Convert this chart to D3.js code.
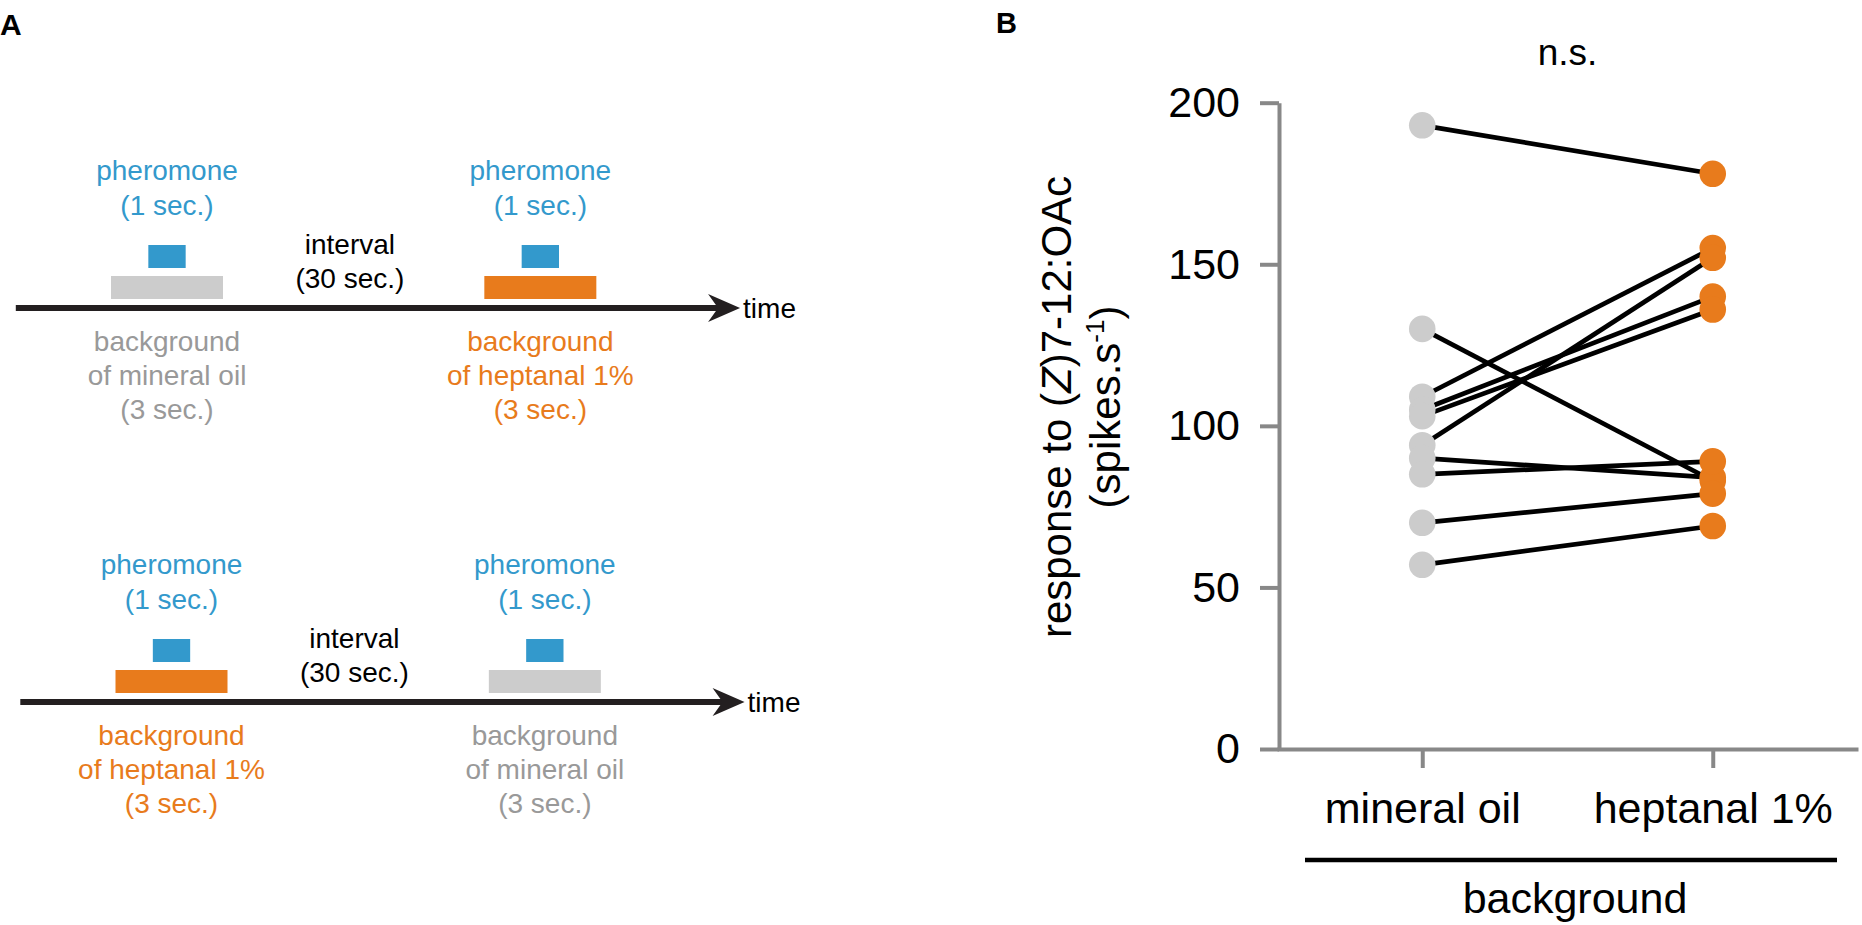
<!DOCTYPE html>
<html>
<head>
<meta charset="utf-8">
<script src="https://cdn.jsdelivr.net/npm/d3@7"></script>
<style>
	body { margin: 0; background: #fff; }
	svg { display: block; font-family: "Liberation Sans", Arial, Helvetica, sans-serif; }
</style>
</head>
<body>
<script>
// panel B: paired responses, one entry per sensillum (same index = same recording)
const groups = ["mineral oil", "heptanal 1%"];
const mineralOil = [193, 130, 109, 105, 103, 94, 90, 85, 70, 57];
const heptanal = [178, 83, 155, 140, 136, 152, 84, 89, 79, 69];
const yTicks = [0, 50, 100, 150, 200];

// panel A: stimulation protocol, times in schematic seconds
const rowBackgrounds = [
	["mineral oil", "heptanal 1%"],
	["heptanal 1%", "mineral oil"],
];
const trialOnsets = [0, 10];
const backgroundDuration = 3;
const pheromoneOnset = 1;
const pheromoneDuration = 1;
const pheromoneLabel = ["pheromone", "(1 sec.)"];
const intervalLabel = ["interval", "(30 sec.)"];
const backgroundLabels = {
	"mineral oil": ["background", "of mineral oil", "(3 sec.)"],
	"heptanal 1%": ["background", "of heptanal 1%", "(3 sec.)"],
};

const width = 1862;
const height = 925;

const blue = "#3399cc";
const orange = "#e87b1c";
const lightGrey = "#cccccc";
const textGrey = "#999999";
const axisGrey = "#888888";
const ink = "#231f20";

const fillFor = { "mineral oil": lightGrey, "heptanal 1%": orange };
const textFor = { "mineral oil": textGrey, "heptanal 1%": orange };

const svg = d3
	.select("body")
	.append("svg")
	.attr("width", width)
	.attr("height", height);

// ---------- panel A ----------
svg
	.append("text")
	.attr("x", 0)
	.attr("y", 35)
	.attr("font-size", 30)
	.attr("font-weight", "bold")
	.text("A");

const t = d3.scaleLinear().domain([0, backgroundDuration]).range([111, 223]);
const lineY = 308;
const rowOffsets = [
	[0, 0],
	[4.5, 394],
];

const multiline = (g, lines, x, y0, step, color) => {
	g.append("text")
		.attr("text-anchor", "middle")
		.attr("font-size", 28)
		.attr("fill", color)
		.selectAll("tspan")
		.data(lines)
		.enter()
		.append("tspan")
		.attr("x", x)
		.attr("y", (d, i) => y0 + i * step)
		.text((d) => d);
};

rowBackgrounds.forEach((row, r) => {
	const g = svg
		.append("g")
		.attr("transform", `translate(${rowOffsets[r][0]},${rowOffsets[r][1]})`);

	const tipX = t(16.85);
	g.append("line")
		.attr("x1", t(-2.55))
		.attr("x2", tipX - 20)
		.attr("y1", lineY)
		.attr("y2", lineY)
		.attr("stroke", ink)
		.attr("stroke-width", 6);
	g.append("path")
		.attr(
			"d",
			`M${tipX},${lineY}L${tipX - 32},${lineY - 14}L${tipX - 22},${lineY}L${tipX - 32},${lineY + 14}Z`
		)
		.attr("fill", ink);
	g.append("text")
		.attr("x", tipX + 3)
		.attr("y", lineY + 10)
		.attr("font-size", 28)
		.attr("fill", "#000")
		.text("time");

	const trials = row.map((bg, i) => ({ bg, onset: trialOnsets[i] }));

	g.selectAll("rect.bg")
		.data(trials)
		.enter()
		.append("rect")
		.attr("class", "bg")
		.attr("x", (d) => t(d.onset))
		.attr("width", (d) => t(d.onset + backgroundDuration) - t(d.onset))
		.attr("y", 276)
		.attr("height", 23)
		.attr("fill", (d) => fillFor[d.bg]);

	g.selectAll("rect.ph")
		.data(trials)
		.enter()
		.append("rect")
		.attr("class", "ph")
		.attr("x", (d) => t(d.onset + pheromoneOnset))
		.attr(
			"width",
			(d) =>
				t(d.onset + pheromoneOnset + pheromoneDuration) -
				t(d.onset + pheromoneOnset)
		)
		.attr("y", 245)
		.attr("height", 23)
		.attr("fill", blue);

	trials.forEach((d) => {
		const cx = t(d.onset + backgroundDuration / 2);
		multiline(g, pheromoneLabel, cx, 180, 35, blue);
		multiline(g, backgroundLabels[d.bg], cx, 351, 34, textFor[d.bg]);
	});

	multiline(g, intervalLabel, t(6.4), 254, 34, "#000");
});

// ---------- panel B ----------
svg
	.append("text")
	.attr("x", 996)
	.attr("y", 33)
	.attr("font-size", 29)
	.attr("font-weight", "bold")
	.text("B");

const y = d3.scaleLinear().domain([0, 200]).range([749, 102.7]);
const x = d3.scalePoint().domain(groups).range([1277, 1858]).padding(0.5);

const yAxis = d3
	.axisLeft(y)
	.tickValues(yTicks)
	.tickSize(19)
	.tickSizeOuter(0)
	.tickPadding(20);
const xAxis = d3.axisBottom(x).tickSize(19).tickSizeOuter(0).tickPadding(24);

const styleAxis = (g) => {
	g.attr("font-family", null).attr("font-size", 43);
	g.selectAll("path, line").attr("stroke", axisGrey).attr("stroke-width", 4);
	g.selectAll("text").attr("fill", "#000");
};

svg
	.append("g")
	.attr("transform", `translate(${x.range()[0] + 2},0)`)
	.call(yAxis)
	.call(styleAxis);

svg
	.append("g")
	.attr("transform", `translate(0,${y(0)})`)
	.call(xAxis)
	.call(styleAxis);

const pairs = mineralOil.map((v, i) => ({ before: v, after: heptanal[i] }));

svg
	.append("g")
	.selectAll("line")
	.data(pairs)
	.enter()
	.append("line")
	.attr("x1", x(groups[0]))
	.attr("x2", x(groups[1]))
	.attr("y1", (d) => y(d.before))
	.attr("y2", (d) => y(d.after))
	.attr("stroke", "#000")
	.attr("stroke-width", 4.7);

groups.forEach((grp, gi) => {
	svg
		.append("g")
		.selectAll("circle")
		.data(gi === 0 ? mineralOil : heptanal)
		.enter()
		.append("circle")
		.attr("cx", x(grp))
		.attr("cy", (d) => y(d))
		.attr("r", 13.3)
		.attr("fill", fillFor[grp]);
});

svg
	.append("text")
	.attr("x", d3.mean(groups, (d) => x(d)))
	.attr("y", 65)
	.attr("text-anchor", "middle")
	.attr("font-size", 37)
	.text("n.s.");

// y label, two lines
const yLabel1 = svg
	.append("text")
	.attr("transform", "translate(1071,407) rotate(-90)")
	.attr("text-anchor", "middle")
	.attr("font-size", 42);
yLabel1.append("tspan").text("response to (");
yLabel1.append("tspan").attr("font-style", "italic").text("Z");
yLabel1.append("tspan").text(")7-12:OAc");

const yLabel2 = svg
	.append("text")
	.attr("transform", "translate(1120,407) rotate(-90)")
	.attr("text-anchor", "middle")
	.attr("font-size", 42);
yLabel2.append("tspan").text("(spikes.s");
yLabel2.append("tspan").attr("font-size", 26).attr("dy", -16).text("-1");
yLabel2.append("tspan").attr("dy", 16).text(")");

// bracket under the categories
svg
	.append("line")
	.attr("x1", 1305)
	.attr("x2", 1837)
	.attr("y1", 860)
	.attr("y2", 860)
	.attr("stroke", "#000")
	.attr("stroke-width", 4.5);

svg
	.append("text")
	.attr("x", 1575)
	.attr("y", 913)
	.attr("text-anchor", "middle")
	.attr("font-size", 43)
	.text("background");
</script>
</body>
</html>
